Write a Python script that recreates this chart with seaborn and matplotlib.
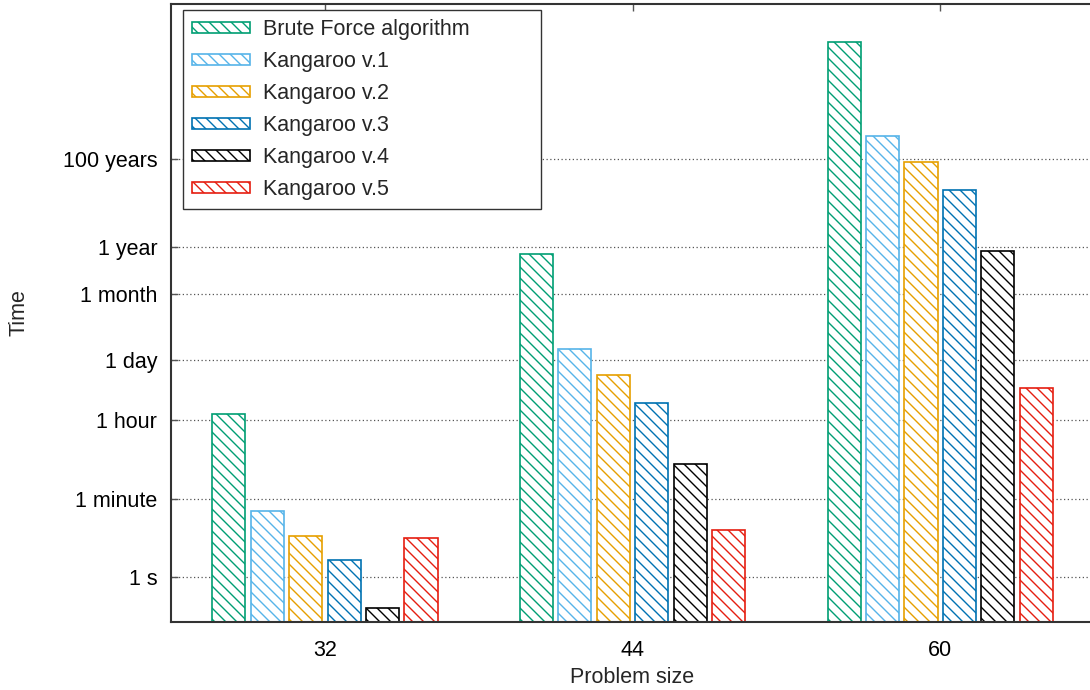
import numpy as np
import pandas as pd
import matplotlib
matplotlib.use("Agg")
import matplotlib.pyplot as plt
import seaborn as sns

# data (seconds)
problem_sizes = ["32", "44", "60"]
methods = ["Brute Force algorithm", "Kangaroo v.1", "Kangaroo v.2",
           "Kangaroo v.3", "Kangaroo v.4", "Kangaroo v.5"]
brute_force = [5050, 2.19e7, 1.44e12]
kangaroo_v1 = [31.6, 1.52e5, 1.05e10]
kangaroo_v2 = [8.5, 3.9e4, 2.7e9]
kangaroo_v3 = [2.4, 8970, 6.3e8]
kangaroo_v4 = [0.2, 371, 2.57e7]
kangaroo_v5 = [7.7, 11.7, 1.98e4]
colors = ["#009e73", "#56b4e9", "#e69f00", "#0072b2", "#000000", "#e51e10"]

tick_values = [1, 60, 3600, 86400, 2.6298e6, 3.15576e7, 3.15576e9]
tick_labels = ["1 s", "1 minute", "1 hour", "1 day", "1 month", "1 year", "100 years"]

series = [brute_force, kangaroo_v1, kangaroo_v2, kangaroo_v3, kangaroo_v4, kangaroo_v5]
df = pd.DataFrame({
    "Problem size": problem_sizes * len(methods),
    "Method": [m for m in methods for _ in problem_sizes],
    "Time": [v for s in series for v in s],
})

# render at dpi 132 so the hatch spacing matches gnuplot's; sizes scaled by s
dpi = 132
s = 100 / dpi

sns.set_theme(style="white")
plt.rcParams["font.family"] = ["Liberation Sans", "DejaVu Sans"]
plt.rcParams["hatch.linewidth"] = 1.0 * s
fs = 15.5 * s
hatch = chr(92) * 4  # backslash hatch, ~11 px spacing

fig = plt.figure(figsize=(1090 / dpi, 690 / dpi), dpi=dpi)
ax = fig.add_axes([0.1569, 0.0986, 0.8468, 0.8956])
ax.set_yscale("log")

sns.barplot(data=df, x="Problem size", y="Time", hue="Method", order=problem_sizes,
            hue_order=methods, palette=colors, saturation=1, width=0.75, gap=0.14,
            ax=ax, zorder=3, errorbar=None)

# white fill + coloured hatch, gnuplot style; start bars at the axis floor
for patch in ax.patches:
    c = patch.get_facecolor()
    top = patch.get_y() + patch.get_height()
    patch.set_y(0.0951)
    patch.set_height(top - 0.0951)
    patch.set_edgecolor(c)
    patch.set_facecolor("white")
    patch.set_hatch(hatch)
    patch.set_linewidth(1.2 * s)

ax.set_ylim(0.095, 1.05e13)
ax.set_xlim(-0.5, 2.5)
ax.set_yticks(tick_values)
ax.set_yticklabels(tick_labels)
ax.yaxis.set_minor_locator(matplotlib.ticker.NullLocator())
ax.grid(axis="y", linestyle=(0, (1, 2)), color="#555555", linewidth=0.9 * s, zorder=0)
ax.set_axisbelow(True)

for side in ["left", "bottom", "top"]:
    ax.spines[side].set_color("#333333")
    ax.spines[side].set_linewidth(1.5 * s)
    ax.spines[side].set_zorder(5)
ax.spines["right"].set_visible(False)
ax.tick_params(axis="both", direction="in", length=5 * s, width=1 * s, color="#555555",
               labelsize=fs, labelcolor="black")
ax.tick_params(axis="x", top=True, pad=13 * s)
ax.tick_params(axis="y", left=True, pad=10 * s)

ax.set_xlabel("Problem size", fontsize=fs)
ax.set_ylabel("Time", fontsize=fs)
ax.xaxis.set_label_coords(0.5, -0.073)
ax.yaxis.set_label_coords(-0.1528, 0.5)

leg = ax.legend(loc="upper left", bbox_to_anchor=(0.013, 0.5, 0.388, 0.49),
                mode="expand", fontsize=fs,
                frameon=True, fancybox=False, edgecolor="#333333", framealpha=1,
                handlelength=2.7, handleheight=0.47, labelspacing=0.51,
                borderpad=0.42, borderaxespad=0, handletextpad=0.6, title=None)
leg.get_frame().set_linewidth(1.0 * s)
leg.set_zorder(10)
for h, c in zip(leg.legend_handles, colors):
    h.set_edgecolor(c)
    h.set_facecolor("white")
    h.set_linewidth(1.2 * s)
    h.set_hatch(hatch)

fig.savefig("out.png", dpi=dpi)
